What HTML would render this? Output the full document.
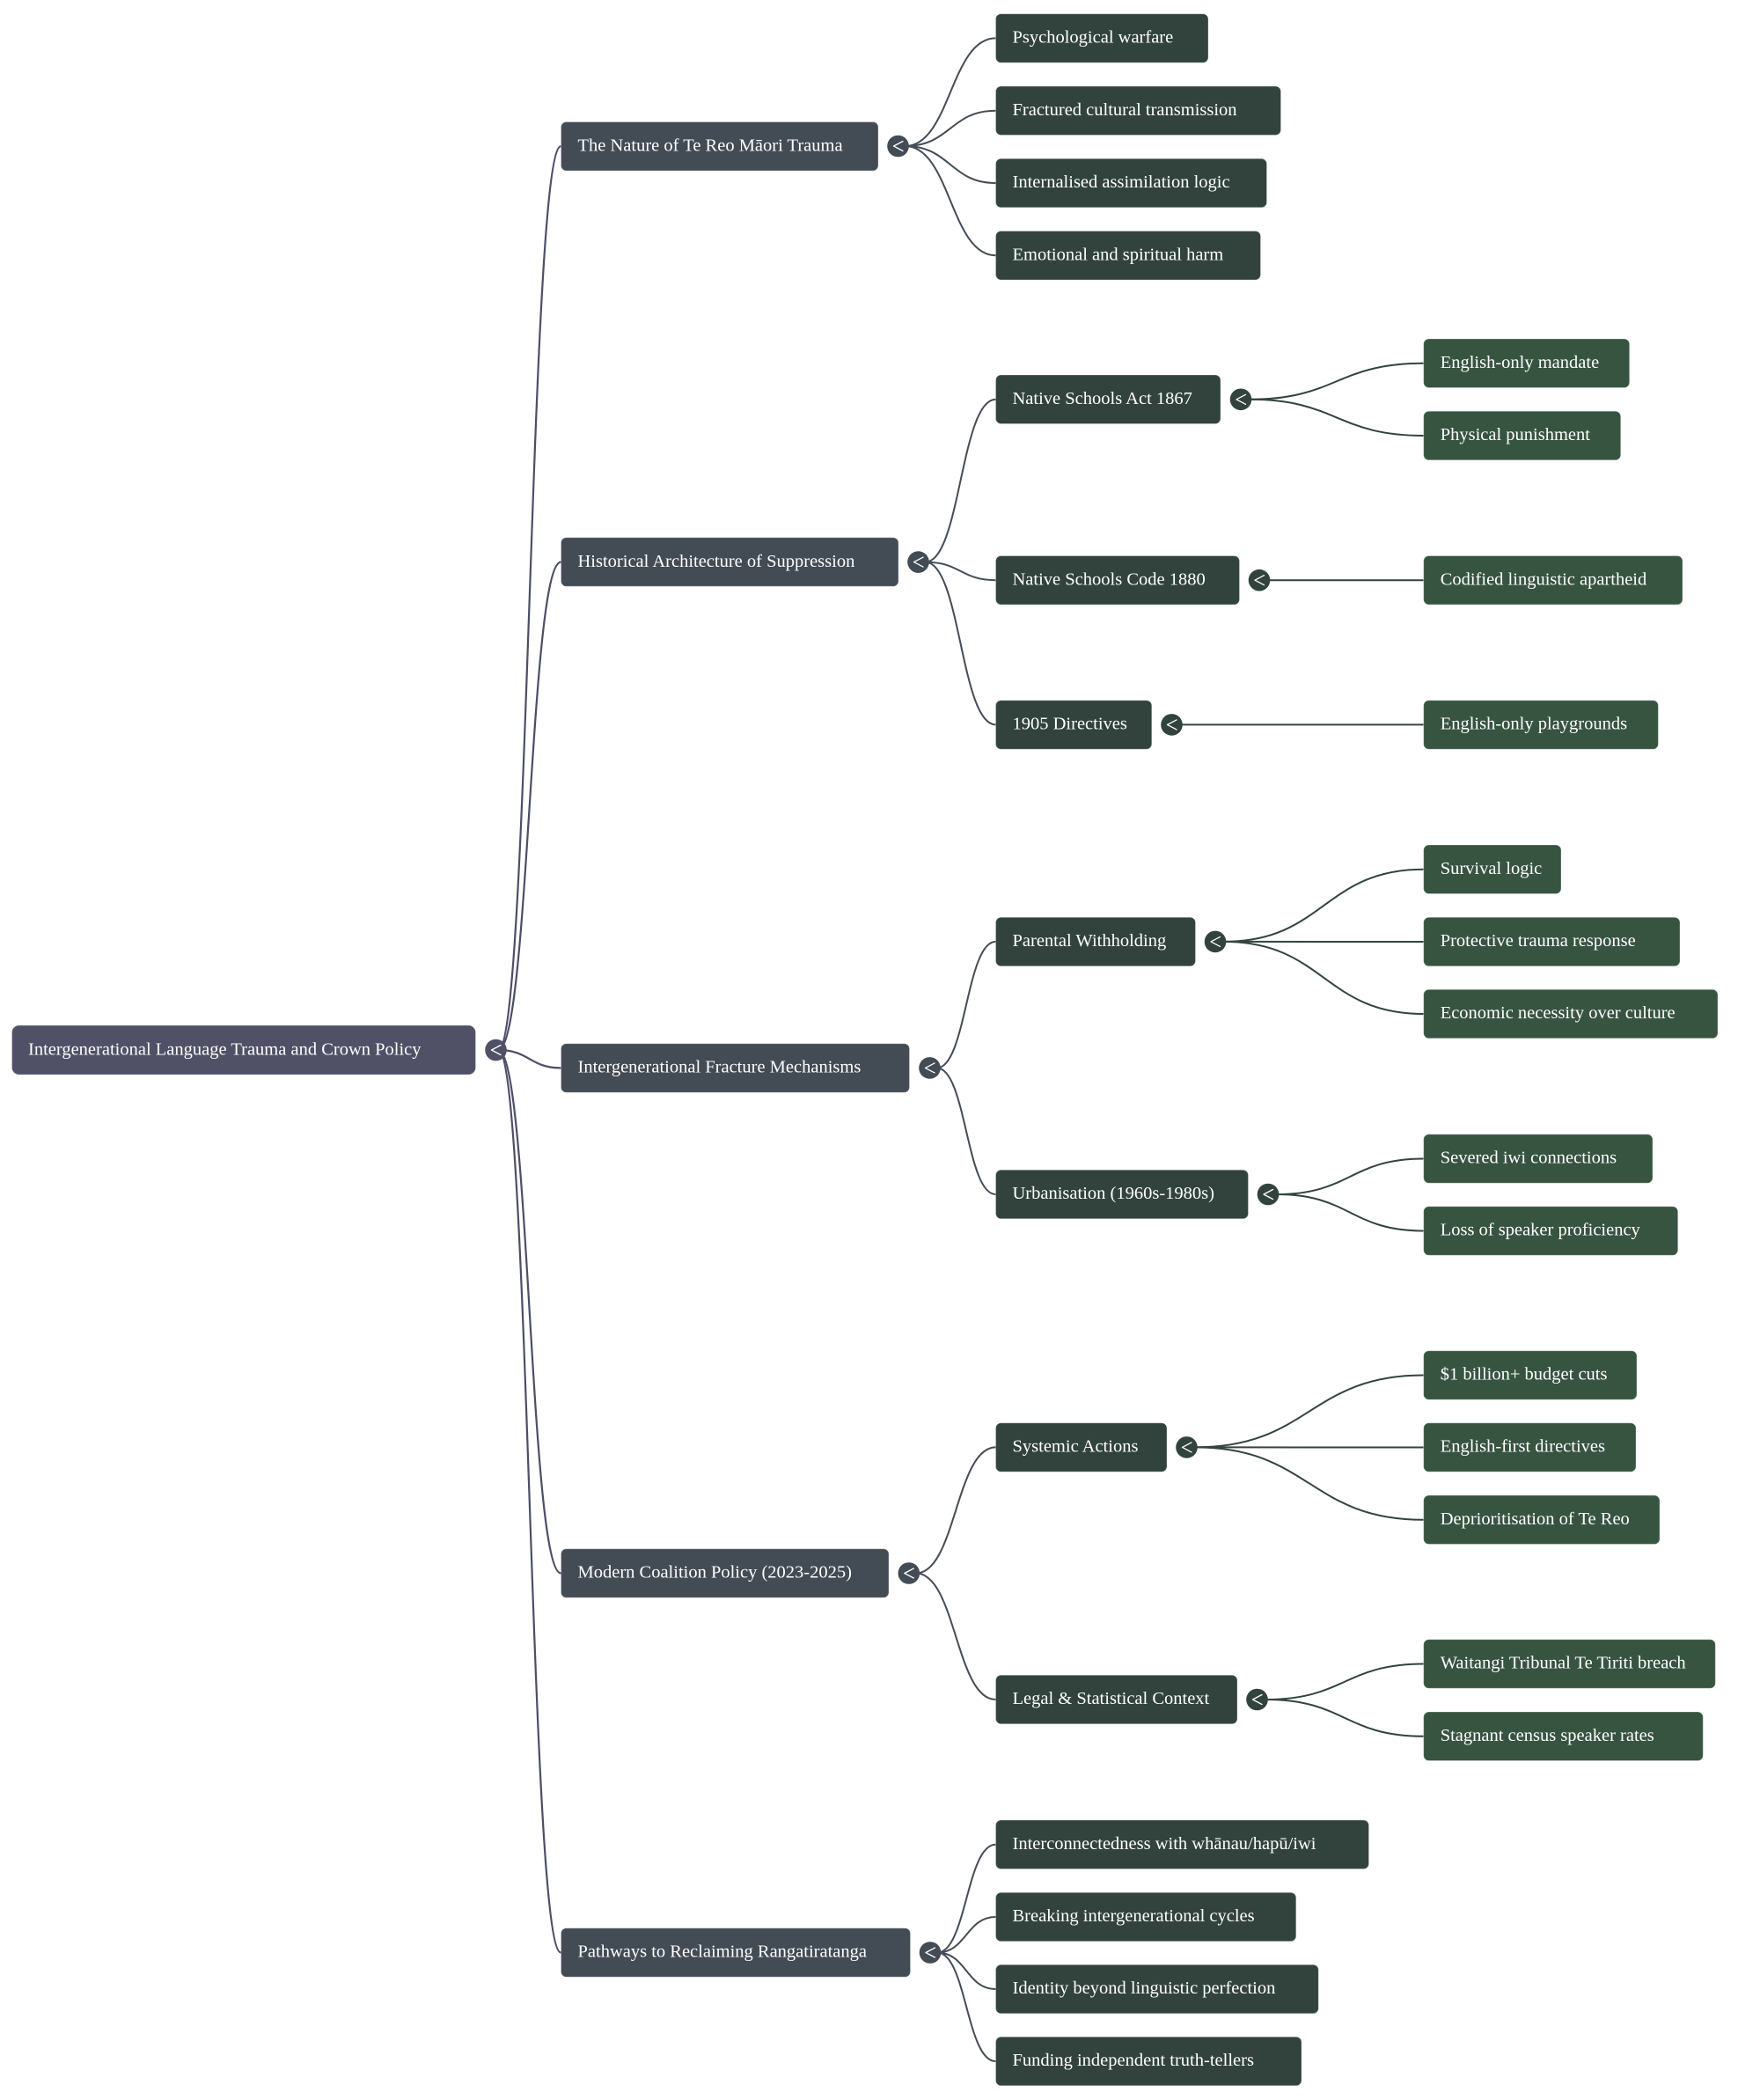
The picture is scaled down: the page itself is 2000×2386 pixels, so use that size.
<!DOCTYPE html>
<html>
<head>
<meta charset="utf-8">
<style>
  html,body{margin:0;padding:0;background:#ffffff;}
  svg{display:block;}
  .t{font-family:"Liberation Serif","Times New Roman",serif;font-size:20.5px;fill:#ffffff;}
  .bx{stroke:rgba(255,255,255,0.3);stroke-width:1;}
  .chev{fill:none;stroke:#ffffff;stroke-width:1.3;stroke-linecap:round;stroke-linejoin:round;}
</style>
</head>
<body>
<svg width="2000" height="2386" viewBox="0 0 2000 2386" xmlns="http://www.w3.org/2000/svg">
  <rect x="0" y="0" width="2000" height="2386" fill="#ffffff"/>

  <!-- Root edges -->
  <g fill="none" stroke="#4d4e67" stroke-width="2.2">
    <path d="M566,1193 C601.75,1193 601.75,166.2 637.5,166.2"/>
    <path d="M566,1193 C601.75,1193 601.75,638.6 637.5,638.6"/>
    <path d="M566,1193 C601.75,1193 601.75,1213.4 637.5,1213.4"/>
    <path d="M566,1193 C601.75,1193 601.75,1787.5 637.5,1787.5"/>
    <path d="M566,1193 C601.75,1193 601.75,2218.5 637.5,2218.5"/>
  </g>

  <!-- Level 1 edges -->
  <g fill="none" stroke="#444c56" stroke-width="2">
    <path d="M1028.5,166 C1080,166 1080,43.4 1131.5,43.4"/>
    <path d="M1028.5,166 C1080,166 1080,125.7 1131.5,125.7"/>
    <path d="M1028.5,166 C1080,166 1080,208 1131.5,208"/>
    <path d="M1028.5,166 C1080,166 1080,290.2 1131.5,290.2"/>

    <path d="M1051.5,638.6 C1091.5,638.6 1091.5,453.8 1131.5,453.8"/>
    <path d="M1051.5,638.6 C1091.5,638.6 1091.5,659.2 1131.5,659.2"/>
    <path d="M1051.5,638.6 C1091.5,638.6 1091.5,823.4 1131.5,823.4"/>

    <path d="M1064.5,1213.4 C1098,1213.4 1098,1069.9 1131.5,1069.9"/>
    <path d="M1064.5,1213.4 C1098,1213.4 1098,1357 1131.5,1357"/>

    <path d="M1040.8,1787.5 C1086.2,1787.5 1086.2,1644.4 1131.5,1644.4"/>
    <path d="M1040.8,1787.5 C1086.2,1787.5 1086.2,1931 1131.5,1931"/>

    <path d="M1065,2218.5 C1098.2,2218.5 1098.2,2095.8 1131.5,2095.8"/>
    <path d="M1065,2218.5 C1098.2,2218.5 1098.2,2178 1131.5,2178"/>
    <path d="M1065,2218.5 C1098.2,2218.5 1098.2,2260 1131.5,2260"/>
    <path d="M1065,2218.5 C1098.2,2218.5 1098.2,2342 1131.5,2342"/>
  </g>

  <!-- Level 2 edges -->
  <g fill="none" stroke="#33443f" stroke-width="2">
    <path d="M1420,453.8 C1518.9,453.8 1518.9,412.7 1617.7,412.7"/>
    <path d="M1420,453.8 C1518.9,453.8 1518.9,495 1617.7,495"/>
    <path d="M1441,659.2 L1617.7,659.2"/>
    <path d="M1341.5,823.4 L1617.7,823.4"/>

    <path d="M1391,1069.9 C1504.4,1069.9 1504.4,987.75 1617.7,987.75"/>
    <path d="M1391,1069.9 C1504.4,1069.9 1504.4,1070 1617.7,1070"/>
    <path d="M1391,1069.9 C1504.4,1069.9 1504.4,1152 1617.7,1152"/>

    <path d="M1451,1357 C1534.4,1357 1534.4,1316.5 1617.7,1316.5"/>
    <path d="M1451,1357 C1534.4,1357 1534.4,1398.5 1617.7,1398.5"/>

    <path d="M1358.5,1644.4 C1488.1,1644.4 1488.1,1562.5 1617.7,1562.5"/>
    <path d="M1358.5,1644.4 C1488.1,1644.4 1488.1,1644.5 1617.7,1644.5"/>
    <path d="M1358.5,1644.4 C1488.1,1644.4 1488.1,1726.75 1617.7,1726.75"/>

    <path d="M1438.5,1931 C1528.1,1931 1528.1,1890.5 1617.7,1890.5"/>
    <path d="M1438.5,1931 C1528.1,1931 1528.1,1972.75 1617.7,1972.75"/>
  </g>

  <!-- Root node -->
  <rect class="bx" x="13.5" y="1165" width="527" height="56" rx="8" fill="#505167"/>
  <text class="t" x="32" y="1198.5">Intergenerational Language Trauma and Crown Policy</text>
  <circle cx="563.5" cy="1193" r="12.3" fill="#505167"/>

  <!-- Level 1 nodes -->
  <g fill="#434b55">
    <rect class="bx" x="637.5" y="138.5" width="360.5" height="55.5" rx="6"/>
    <rect class="bx" x="637.5" y="610.8" width="383.5" height="55.5" rx="6"/>
    <rect class="bx" x="637.5" y="1185.7" width="396" height="55.5" rx="6"/>
    <rect class="bx" x="637.5" y="1759.7" width="372.5" height="55.5" rx="6"/>
    <rect class="bx" x="637.5" y="2190.7" width="397" height="55.5" rx="6"/>
    <circle cx="1020.5" cy="166" r="12.3"/>
    <circle cx="1043.5" cy="638.6" r="12.3"/>
    <circle cx="1056.5" cy="1213.4" r="12.3"/>
    <circle cx="1032.8" cy="1787.5" r="12.3"/>
    <circle cx="1057" cy="2218.5" r="12.3"/>
  </g>
  <text class="t" x="656.5" y="171.5">The Nature of Te Reo Māori Trauma</text>
  <text class="t" x="656.5" y="643.8">Historical Architecture of Suppression</text>
  <text class="t" x="656.5" y="1218.6">Intergenerational Fracture Mechanisms</text>
  <text class="t" x="656.5" y="1792.7">Modern Coalition Policy (2023-2025)</text>
  <text class="t" x="656.5" y="2223.7">Pathways to Reclaiming Rangatiratanga</text>

  <!-- Level 2 nodes -->
  <g fill="#32433e">
    <rect class="bx" x="1131.5" y="15.7" width="241.5" height="55.5" rx="6"/>
    <rect class="bx" x="1131.5" y="98" width="324" height="55.5" rx="6"/>
    <rect class="bx" x="1131.5" y="180.3" width="308" height="55.5" rx="6"/>
    <rect class="bx" x="1131.5" y="262.5" width="301" height="55.5" rx="6"/>

    <rect class="bx" x="1131.5" y="426" width="255.5" height="55.5" rx="6"/>
    <rect class="bx" x="1131.5" y="631.5" width="277" height="55.5" rx="6"/>
    <rect class="bx" x="1131.5" y="795.7" width="177.3" height="55.5" rx="6"/>

    <rect class="bx" x="1131.5" y="1042.2" width="227" height="55.5" rx="6"/>
    <rect class="bx" x="1131.5" y="1329.3" width="287" height="55.5" rx="6"/>

    <rect class="bx" x="1131.5" y="1616.7" width="194.5" height="55.5" rx="6"/>
    <rect class="bx" x="1131.5" y="1903.3" width="274.5" height="55.5" rx="6"/>

    <rect class="bx" x="1131.5" y="2068" width="424" height="55.5" rx="6"/>
    <rect class="bx" x="1131.5" y="2150.3" width="341.3" height="55.5" rx="6"/>
    <rect class="bx" x="1131.5" y="2232.3" width="366.8" height="55.5" rx="6"/>
    <rect class="bx" x="1131.5" y="2314.3" width="347.5" height="55.5" rx="6"/>

    <circle cx="1410" cy="453.8" r="12.3"/>
    <circle cx="1431" cy="659.2" r="12.3"/>
    <circle cx="1331.5" cy="823.4" r="12.3"/>
    <circle cx="1381" cy="1069.9" r="12.3"/>
    <circle cx="1441" cy="1357" r="12.3"/>
    <circle cx="1348.5" cy="1644.4" r="12.3"/>
    <circle cx="1428.5" cy="1931" r="12.3"/>
  </g>
  <text class="t" x="1150.5" y="48.6">Psychological warfare</text>
  <text class="t" x="1150.5" y="130.9">Fractured cultural transmission</text>
  <text class="t" x="1150.5" y="213.2">Internalised assimilation logic</text>
  <text class="t" x="1150.5" y="295.4">Emotional and spiritual harm</text>

  <text class="t" x="1150.5" y="459">Native Schools Act 1867</text>
  <text class="t" x="1150.5" y="664.4">Native Schools Code 1880</text>
  <text class="t" x="1150.5" y="828.6">1905 Directives</text>

  <text class="t" x="1150.5" y="1075.1">Parental Withholding</text>
  <text class="t" x="1150.5" y="1362.2">Urbanisation (1960s-1980s)</text>

  <text class="t" x="1150.5" y="1649.6">Systemic Actions</text>
  <text class="t" x="1150.5" y="1936.2">Legal &amp; Statistical Context</text>

  <text class="t" x="1150.5" y="2101">Interconnectedness with whānau/hapū/iwi</text>
  <text class="t" x="1150.5" y="2183.2">Breaking intergenerational cycles</text>
  <text class="t" x="1150.5" y="2265.2">Identity beyond linguistic perfection</text>
  <text class="t" x="1150.5" y="2347.2">Funding independent truth-tellers</text>

  <!-- Chevrons in toggle circles -->
  <g class="chev">
    <path d="M569,1187.5 L558.5,1193 L569,1198.5"/>
    <path d="M1026,160.5 L1015.5,166 L1026,171.5"/>
    <path d="M1049,633.1 L1038.5,638.6 L1049,644.1"/>
    <path d="M1062,1207.9 L1051.5,1213.4 L1062,1218.9"/>
    <path d="M1038.3,1782 L1027.8,1787.5 L1038.3,1793"/>
    <path d="M1062.5,2213 L1052,2218.5 L1062.5,2224"/>
    <path d="M1415.5,448.3 L1405,453.8 L1415.5,459.3"/>
    <path d="M1436.5,653.7 L1426,659.2 L1436.5,664.7"/>
    <path d="M1337,817.9 L1326.5,823.4 L1337,828.9"/>
    <path d="M1386.5,1064.4 L1376,1069.9 L1386.5,1075.4"/>
    <path d="M1446.5,1351.5 L1436,1357 L1446.5,1362.5"/>
    <path d="M1354,1638.9 L1343.5,1644.4 L1354,1649.9"/>
    <path d="M1434,1925.5 L1423.5,1931 L1434,1936.5"/>
  </g>

  <!-- Level 3 nodes -->
  <g fill="#375441">
    <rect class="bx" x="1617.7" y="385" width="234" height="55.5" rx="6"/>
    <rect class="bx" x="1617.7" y="467.3" width="224" height="55.5" rx="6"/>
    <rect class="bx" x="1617.7" y="631.5" width="294.3" height="55.5" rx="6"/>
    <rect class="bx" x="1617.7" y="795.7" width="266.7" height="55.5" rx="6"/>

    <rect class="bx" x="1617.7" y="960" width="156.3" height="55.5" rx="6"/>
    <rect class="bx" x="1617.7" y="1042.3" width="291.3" height="55.5" rx="6"/>
    <rect class="bx" x="1617.7" y="1124.3" width="334.3" height="55.5" rx="6"/>
    <rect class="bx" x="1617.7" y="1288.7" width="260.3" height="55.5" rx="6"/>
    <rect class="bx" x="1617.7" y="1370.7" width="289" height="55.5" rx="6"/>

    <rect class="bx" x="1617.7" y="1534.7" width="242.3" height="55.5" rx="6"/>
    <rect class="bx" x="1617.7" y="1616.7" width="241.3" height="55.5" rx="6"/>
    <rect class="bx" x="1617.7" y="1699" width="268.3" height="55.5" rx="6"/>
    <rect class="bx" x="1617.7" y="1862.7" width="331.6" height="55.5" rx="6"/>
    <rect class="bx" x="1617.7" y="1945" width="317.6" height="55.5" rx="6"/>
  </g>
  <text class="t" x="1636.7" y="417.9">English-only mandate</text>
  <text class="t" x="1636.7" y="500.2">Physical punishment</text>
  <text class="t" x="1636.7" y="664.4">Codified linguistic apartheid</text>
  <text class="t" x="1636.7" y="828.6">English-only playgrounds</text>

  <text class="t" x="1636.7" y="992.9">Survival logic</text>
  <text class="t" x="1636.7" y="1075.2">Protective trauma response</text>
  <text class="t" x="1636.7" y="1157.2">Economic necessity over culture</text>
  <text class="t" x="1636.7" y="1321.7">Severed iwi connections</text>
  <text class="t" x="1636.7" y="1403.7">Loss of speaker proficiency</text>

  <text class="t" x="1636.7" y="1567.7">$1 billion+ budget cuts</text>
  <text class="t" x="1636.7" y="1649.7">English-first directives</text>
  <text class="t" x="1636.7" y="1731.9">Deprioritisation of Te Reo</text>
  <text class="t" x="1636.7" y="1895.7">Waitangi Tribunal Te Tiriti breach</text>
  <text class="t" x="1636.7" y="1977.9">Stagnant census speaker rates</text>
</svg>
</body>
</html>
